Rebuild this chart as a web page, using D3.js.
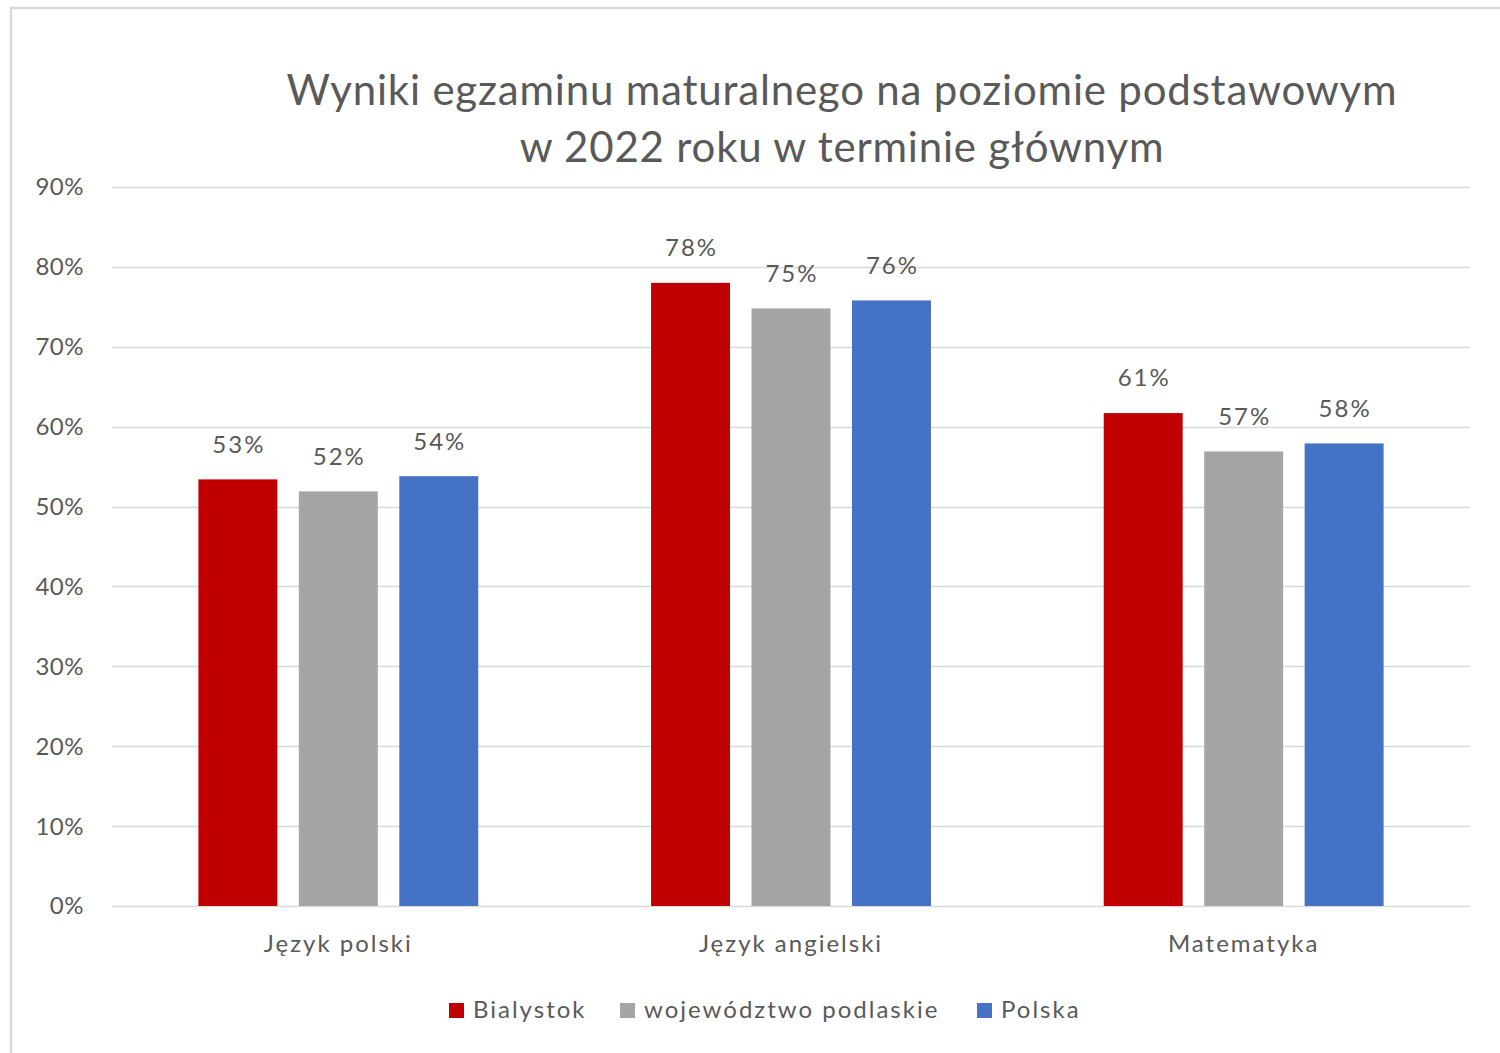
<!DOCTYPE html>
<html>
<head>
<meta charset="utf-8">
<script src="https://cdn.jsdelivr.net/npm/d3@7"></script>
<style>
  body { margin: 0; background: #fff; }
  text { font-family: Lato, "Open Sans", sans-serif; fill: #595959; }
</style>
</head>
<body>
<div id="chart"></div>
<script>
// data
const categories = ["Język polski", "Język angielski", "Matematyka"];
const seriesNames = ["Bialystok", "województwo podlaskie", "Polska"];
const bialystok = [53.4, 78.0, 61.7];
const podlaskie = [51.9, 74.8, 56.9];
const polska = [53.8, 75.8, 57.9];
const labelsBialystok = ["53%", "78%", "61%"];
const labelsPodlaskie = ["52%", "75%", "57%"];
const labelsPolska = ["54%", "76%", "58%"];
const yTicks = [0, 10, 20, 30, 40, 50, 60, 70, 80, 90];
const colors = ["#c00000", "#a5a5a5", "#4472c4"];

const [W, H] = [1500, 1053];
const margin = { left: 112, right: 30, top: 187, bottom: 147 };

const svg = d3.select("#chart").append("svg").attr("width", W).attr("height", H);

// frame (runs off the right and bottom edges)
svg.append("rect")
  .attr("x", 11).attr("y", 8).attr("width", W + 20).attr("height", H + 20)
  .attr("fill", "none").attr("stroke", "#d9d9d9").attr("stroke-width", 2.5);

// title
const title = svg.append("text").attr("text-anchor", "middle")
  .style("font-size", "42px").style("letter-spacing", "0.8px");
title.append("tspan").attr("x", 842).attr("y", 105).text("Wyniki egzaminu maturalnego na poziomie podstawowym");
title.append("tspan").attr("x", 842).attr("y", 162).text("w 2022 roku w terminie głównym");

const x = d3.scaleBand().domain(categories).range([margin.left, W - margin.right]);
const x1 = d3.scaleBand().domain(seriesNames).range([0, x.bandwidth()]).paddingInner(0.214).paddingOuter(0.86);
const y = d3.scaleLinear().domain([0, 90]).range([H - margin.bottom, margin.top]);

// gridlines and y labels
svg.append("g").selectAll("line").data(yTicks).join("line")
  .attr("x1", margin.left).attr("x2", W - margin.right)
  .attr("y1", (d) => Math.round(y(d)) + 0.5).attr("y2", (d) => Math.round(y(d)) + 0.5)
  .attr("stroke", "#d9d9d9").attr("stroke-width", 1.5);

svg.append("g").selectAll("text").data(yTicks).join("text")
  .attr("x", 84).attr("y", (d) => y(d)).attr("dy", "0.35em")
  .attr("text-anchor", "end").style("font-size", "24px").style("letter-spacing", "0.5px")
  .text((d) => d + "%");

// bars
const series = [
  { name: seriesNames[0], values: bialystok, labels: labelsBialystok, color: colors[0] },
  { name: seriesNames[1], values: podlaskie, labels: labelsPodlaskie, color: colors[1] },
  { name: seriesNames[2], values: polska, labels: labelsPolska, color: colors[2] },
];

const groups = svg.append("g").selectAll("g").data(series).join("g").attr("fill", (s) => s.color);
groups.selectAll("rect").data((s) => s.values.map((v, i) => ({ s, v, i }))).join("rect")
  .attr("x", (d) => x(categories[d.i]) + x1(d.s.name))
  .attr("width", x1.bandwidth())
  .attr("y", (d) => y(d.v))
  .attr("height", (d) => y(0) - y(d.v));

// data labels
svg.append("g").selectAll("text")
  .data(series.flatMap((s) => s.values.map((v, i) => ({ s, v, i }))))
  .join("text")
  .attr("x", (d) => x(categories[d.i]) + x1(d.s.name) + x1.bandwidth() / 2 + 1)
  .attr("y", (d) => y(d.v) - 35)
  .attr("dy", "0.35em")
  .attr("text-anchor", "middle").style("font-size", "24px").style("letter-spacing", "2px")
  .text((d) => d.s.labels[d.i]);

// category labels
svg.append("g").selectAll("text").data(categories).join("text")
  .attr("x", (d) => x(d) + x.bandwidth() / 2).attr("y", 944).attr("dy", "0.35em")
  .attr("text-anchor", "middle").style("font-size", "24px").style("letter-spacing", "2px")
  .text((d) => d);

// legend
const legendX = [449, 620, 977];
const legend = svg.append("g").selectAll("g").data(series).join("g")
  .attr("transform", (d, i) => `translate(${legendX[i]}, 1010)`);
legend.append("rect").attr("x", 0).attr("y", -7).attr("width", 15).attr("height", 15)
  .attr("fill", (d) => d.color);
legend.append("text").attr("x", 24).attr("dy", "0.35em")
  .style("font-size", "24px").style("letter-spacing", "2px")
  .text((d) => d.name);
</script>
</body>
</html>
